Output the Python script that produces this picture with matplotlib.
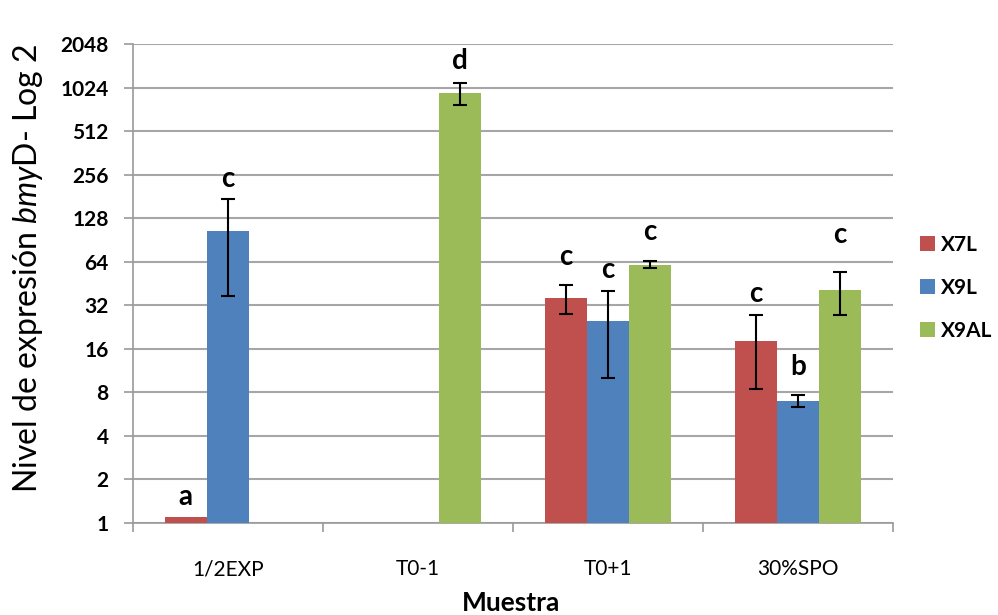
import matplotlib
matplotlib.use('Agg')
import matplotlib.pyplot as plt
import numpy as np

plt.rcParams['font.family'] = ['Lato', 'DejaVu Sans']
plt.rcParams['mathtext.fontset'] = 'custom'
plt.rcParams['mathtext.rm'] = 'Lato'
plt.rcParams['mathtext.it'] = 'Lato:italic'

# data
muestras = ['1/2EXP', 'T0-1', 'T0+1', '30%SPO']
series = ['X7L', 'X9L', 'X9AL']
colores = ['#c0504d', '#4f81bd', '#9bbb59']

x7l = [1.1, np.nan, 36, 18]
x9l = [105, np.nan, 25, 7.0]
x9al = [np.nan, 940, 61, 41]

x7l_err = [0, 0, 8, 9.5]
x9l_err = [68, 0, 15, 0.7]
x9al_err = [0, 160, 3.5, 13.5]

# significance letters: (category, series, letter, height)
letras = [(0, 0, 'a', 1.52), (0, 1, 'c', 237), (1, 2, 'd', 1550),
          (2, 0, 'c', 69), (2, 1, 'c', 56), (2, 2, 'c', 103),
          (3, 0, 'c', 38), (3, 1, 'b', 12), (3, 2, 'c', 98)]

valores = [x7l, x9l, x9al]
errores = [x7l_err, x9l_err, x9al_err]

fig = plt.figure(figsize=(9.98, 6.15), dpi=100)
ax = fig.add_axes([0.1333, 0.1496, 0.7615, 0.7789])

n = len(muestras)
xc = np.arange(n)
w = 0.222
for i, (vals, errs) in enumerate(zip(valores, errores)):
    pos = xc + (i - 1) * w
    v = np.array(vals, dtype=float)
    e = np.array(errs, dtype=float)
    ax.bar(pos, v, width=w, bottom=0, color=colores[i], label=series[i], zorder=3)
    m = (~np.isnan(v)) & (e > 0)
    ax.errorbar(pos[m], v[m], yerr=e[m], fmt='none', ecolor='black',
                elinewidth=1.5, capsize=5, capthick=1.5, zorder=4)

for c, s, txt, h in letras:
    ax.text(xc[c] + (s - 1) * w, h, txt, ha='center', va='center',
            fontsize=20, fontweight='bold', zorder=5)

ax.set_yscale('log', base=2)
ax.set_ylim(1, 2048)
ticks = [2 ** k for k in range(12)]
ax.set_yticks(ticks)
ax.set_yticklabels([str(t) for t in ticks], fontsize=15, fontweight='bold')
ax.yaxis.set_minor_locator(matplotlib.ticker.NullLocator())
ax.set_xlim(-0.5, n - 0.5)
ax.set_xticks(xc)
ax.set_xticklabels(muestras, fontsize=15)
ax.set_xticks(np.arange(n + 1) - 0.5, minor=True)
ax.tick_params(axis='x', which='major', length=0, pad=26)
ax.tick_params(axis='x', which='minor', length=6.5, color='#9a9a9a', width=1.2)
ax.tick_params(axis='y', length=6.5, color='#9a9a9a', width=1.2, pad=11)

ax.grid(axis='y', color='#a6a6a6', linewidth=1.5, zorder=0)
for sp in ['top', 'right']:
    ax.spines[sp].set_visible(False)
for sp in ['left', 'bottom']:
    ax.spines[sp].set_color('#9a9a9a')
    ax.spines[sp].set_linewidth(1.2)

ax.set_ylabel('Nivel de expresión $\\it{bmy}$D- Log 2', fontsize=23, va='center')
ax.yaxis.set_label_coords(-0.138, 0.532)
ax.set_xlabel('Muestra', fontsize=19, fontweight='bold', va='center')
ax.xaxis.set_label_coords(0.497, -0.167)

leg = ax.legend(loc='center left', bbox_to_anchor=(1.0355, 0.4906), frameon=False,
                prop={'size': 15, 'weight': 'bold'}, handlelength=0.7,
                handleheight=0.7, labelspacing=1.1, handletextpad=0.3,
                borderpad=0, borderaxespad=0)

fig.savefig('out.png', dpi=100)
